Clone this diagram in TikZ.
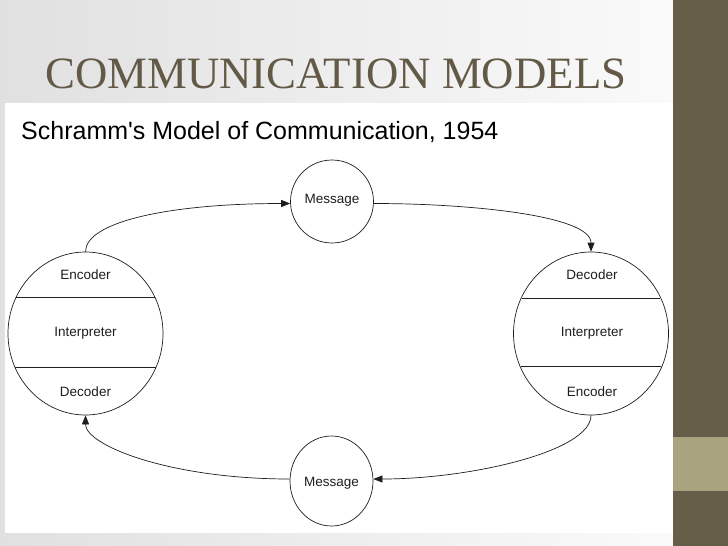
\documentclass[tikz,border=0pt]{standalone}
\usepackage{fontspec}
\usetikzlibrary{shapes.geometric,arrows.meta}
\newfontfamily\titlefont{Liberation Serif}
\newfontfamily\armfont{Liberation Sans}
\definecolor{barcol}{HTML}{665E48}
\definecolor{khaki}{HTML}{A9A47F}
\definecolor{titlecol}{HTML}{625A46}
\definecolor{inkc}{HTML}{1E1E1E}
\tikzset{
  shapeline/.style={draw=inkc, line width=0.7pt},
  bubble/.style={shapeline, ellipse, inner sep=0pt, fill=white},
  lbl/.style={font=\armfont\fontsize{13.5}{15}\selectfont, text=inkc, inner sep=0pt},
  flow/.style={draw=inkc, line width=0.7pt, -{Triangle[length=9pt,width=7pt]}}
}
\begin{document}
\begin{tikzpicture}[x=1pt,y=-1pt]
\useasboundingbox (0,0) rectangle (728,546);
% slide background
\shade[left color=black!12, right color=black!2] (0,0) rectangle (673,546);
\fill[white] (5,103) rectangle (673,533);
\fill[barcol] (673,0) rectangle (728,546);
\fill[khaki] (673,437) rectangle (728,491);
% titles
\node[anchor=base west, inner sep=0pt, text=titlecol, font=\titlefont\fontsize{44.8}{50}\selectfont] (title) at (45,88) {COMMUNICATION MODELS};
\node[anchor=base west, inner sep=0pt, text=black, font=\armfont\fontsize{25}{28}\selectfont] (sub) at (21,139.5) {Schramm's Model of Communication, 1954};
% big circles
\node[bubble, minimum width=155pt, minimum height=163pt] (L) at (85.5,333.5) {};
\node[bubble, minimum width=155pt, minimum height=163pt] (R) at (591,333.5) {};
% message circles
\node[bubble, minimum width=83pt, minimum height=83pt] (MT) at (332,201.5) {};
\node[bubble, minimum width=83pt, minimum height=90pt] (MB) at (331.5,481) {};
% chords
\draw[shapeline] ([shift={(-69.3,-36.5)}]L.center) -- ([shift={(69.3,-36.5)}]L.center);
\draw[shapeline] ([shift={(-70.6,33.5)}]L.center) -- ([shift={(70.6,33.5)}]L.center);
\draw[shapeline] ([shift={(-69.0,-35.5)}]R.center) -- ([shift={(69.0,-35.5)}]R.center);
\draw[shapeline] ([shift={(-70.0,32.5)}]R.center) -- ([shift={(70.0,32.5)}]R.center);
% labels
\node[lbl] (Lenc) at (85.5,275) {Encoder};
\node[lbl] (Lint) at (85.5,333) {Interpreter};
\node[lbl] (Ldec) at (85.5,392) {Decoder};
\node[lbl] (Rdec) at (592,275) {Decoder};
\node[lbl] (Rint) at (592,333) {Interpreter};
\node[lbl] (Renc) at (592,392) {Encoder};
\node[lbl] (MTt) at (332,200) {Message};
\node[lbl] (MBt) at (331.5,483) {Message};
% connectors
\draw[flow] (L.north) .. controls +(0,-30) and +(-120,0) .. ([yshift=-2pt]MT.west);
\draw[flow] ([yshift=-2pt]MT.east) .. controls +(97,0) and +(0,-36) .. (R.north);
\draw[flow] (R.south) .. controls +(0,36) and +(97,0) .. ([yshift=2pt]MB.east);
\draw[flow] ([yshift=2pt]MB.west) .. controls +(-120,0) and +(0,30) .. (L.south);
\end{tikzpicture}
\end{document}
